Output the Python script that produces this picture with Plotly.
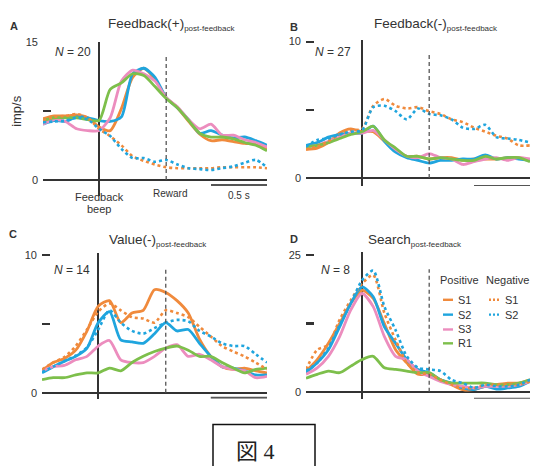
import plotly.graph_objects as go

W, H = 535, 466
ORANGE, BLUE, PINK, GREEN = '#F08A3C', '#1FA5DE', '#EC8DBE', '#7DBF4B'
INK = '#333333'
GREY = '#555555'
FONT = 'Liberation Sans, Arial, sans-serif'

# ---------------- data ----------------
time_s = [-0.5, -0.4, -0.3, -0.2, -0.1, 0.0, 0.1, 0.2, 0.3, 0.4, 0.5,
          0.6, 0.7, 0.8, 0.9, 1.0, 1.1, 1.2, 1.3, 1.4, 1.5]
REWARD_T = 0.6
series_names = ['Positive S1', 'Positive S2', 'Positive S3', 'Positive R1', 'Negative S1', 'Negative S2']

# Panel A  Feedback(+)
A_pos_S1 = [6.7, 7.0, 7.0, 7.1, 6.8, 5.8, 5.4, 7.8, 11.2, 12.2, 11.0, 9.0, 7.9, 6.4, 5.0, 4.3, 4.4, 4.2, 4.0, 3.9, 3.4]
A_pos_S2 = [6.1, 6.5, 6.4, 6.9, 6.8, 6.5, 6.4, 6.9, 11.6, 12.2, 11.2, 9.0, 7.9, 6.6, 5.1, 5.4, 4.9, 4.6, 4.7, 4.3, 3.8]
A_pos_S3 = [6.1, 6.6, 6.4, 5.6, 5.4, 5.4, 6.8, 10.8, 12.0, 11.6, 10.8, 9.0, 8.0, 6.6, 5.6, 6.1, 4.9, 4.9, 4.4, 4.1, 3.6]
A_pos_R1 = [6.5, 6.8, 6.8, 6.8, 6.6, 6.5, 9.9, 10.6, 11.6, 11.4, 10.2, 8.9, 7.9, 6.5, 5.1, 4.7, 4.7, 4.5, 4.1, 3.8, 3.2]
A_neg_S1 = [6.5, 6.9, 7.0, 7.2, 6.8, 5.6, 4.8, 3.8, 2.6, 2.1, 1.7, 1.4, 1.3, 1.3, 1.3, 1.3, 1.4, 1.4, 1.4, 1.4, 1.3]
A_neg_S2 = [6.3, 6.4, 6.5, 6.8, 6.6, 5.6, 4.8, 3.4, 2.4, 2.4, 2.0, 2.2, 1.7, 1.3, 1.2, 1.1, 1.3, 1.5, 1.9, 2.2, 1.4]

# Panel B  Feedback(-)
B_pos_S1 = [2.1, 2.2, 2.6, 3.3, 3.6, 3.4, 3.4, 2.7, 2.0, 1.6, 1.6, 1.4, 1.5, 1.5, 1.3, 1.4, 1.4, 1.4, 1.5, 1.5, 1.3]
B_pos_S2 = [2.4, 2.6, 3.0, 3.2, 3.3, 3.3, 3.8, 2.7, 1.9, 1.5, 1.3, 1.1, 1.3, 1.3, 1.4, 1.4, 1.7, 1.4, 1.5, 1.4, 1.3]
B_pos_S3 = [2.3, 2.4, 2.7, 3.0, 3.3, 3.3, 3.5, 2.8, 2.1, 1.6, 1.5, 1.8, 1.5, 1.4, 1.0, 1.2, 1.4, 1.5, 1.3, 1.5, 1.4]
B_pos_R1 = [2.3, 2.4, 2.6, 2.9, 3.2, 3.4, 3.8, 2.8, 2.2, 1.6, 1.6, 1.4, 1.5, 1.4, 1.3, 1.3, 1.6, 1.4, 1.5, 1.5, 1.2]
B_neg_S1 = [2.1, 2.3, 2.7, 3.2, 3.5, 3.6, 5.3, 5.8, 5.3, 5.1, 5.2, 4.9, 4.7, 4.3, 4.1, 3.7, 3.4, 3.1, 2.9, 2.4, 2.4]
B_neg_S2 = [2.3, 2.8, 2.9, 3.2, 3.4, 3.5, 5.2, 5.3, 4.9, 4.3, 5.1, 4.7, 4.6, 4.3, 3.7, 3.6, 3.9, 3.0, 2.9, 2.8, 2.6]

# Panel C  Value(-)
C_pos_S1 = [1.6, 2.2, 2.5, 3.1, 4.5, 6.3, 6.7, 5.1, 5.8, 6.0, 7.5, 7.3, 6.7, 5.8, 3.9, 2.65, 1.9, 1.7, 1.8, 1.6, 1.45]
C_pos_S2 = [1.45, 1.9, 2.3, 2.65, 3.25, 5.1, 5.9, 3.85, 3.7, 3.6, 4.3, 5.1, 4.5, 4.6, 3.6, 2.65, 1.9, 1.8, 1.6, 1.3, 1.3]
C_pos_S3 = [1.6, 1.9, 2.0, 2.4, 2.65, 3.4, 3.8, 2.4, 2.2, 2.2, 2.65, 3.25, 3.5, 2.65, 2.8, 2.4, 1.9, 1.7, 1.6, 1.1, 1.2]
C_pos_R1 = [0.96, 1.1, 1.1, 1.3, 1.45, 1.45, 1.8, 1.6, 2.2, 2.65, 3.0, 3.25, 3.4, 3.1, 2.65, 2.65, 2.2, 1.8, 1.45, 1.7, 1.8]
C_neg_S1 = [1.7, 2.2, 2.6, 3.4, 4.6, 5.9, 6.5, 6.0, 5.5, 5.4, 5.1, 6.0, 5.8, 5.5, 4.8, 4.1, 3.4, 3.0, 2.65, 2.2, 1.7]
C_neg_S2 = [1.5, 1.9, 2.3, 2.7, 3.3, 4.6, 6.0, 5.1, 4.5, 4.3, 4.7, 5.1, 5.3, 5.2, 4.5, 4.1, 3.6, 3.4, 3.4, 2.8, 2.2]

# Panel D  Search
D_pos_S1 = [3.8, 5.9, 8.9, 12.5, 16.2, 18.6, 17.1, 12.5, 7.7, 5.3, 3.2, 3.2, 2.2, 1.3, 0.4, 0.4, 1.0, 1.3, 1.6, 1.6, 2.2]
D_pos_S2 = [3.5, 5.3, 7.7, 11.9, 16.2, 19.2, 17.4, 11.9, 8.9, 5.9, 4.1, 3.5, 2.2, 1.6, 0.7, 0.4, 1.0, 0.5, 0.7, 1.0, 1.9]
D_pos_S3 = [3.2, 4.4, 6.5, 10.1, 15.0, 18.0, 15.6, 10.1, 6.5, 5.9, 3.8, 2.8, 1.9, 1.3, 1.0, 0.7, 1.0, 1.0, 1.0, 1.3, 1.9]
D_pos_R1 = [2.5, 3.2, 3.8, 3.5, 4.7, 5.9, 6.5, 4.4, 4.1, 3.8, 3.5, 3.5, 2.2, 1.6, 1.6, 1.6, 1.6, 1.3, 1.3, 1.6, 2.2]
D_neg_S1 = [4.1, 7.7, 8.6, 13.2, 16.8, 19.8, 21.4, 14.4, 9.5, 5.3, 3.5, 3.2, 2.2, 1.3, 0.7, 0.7, 1.3, 1.3, 1.3, 1.3, 1.9]
D_neg_S2 = [3.8, 5.3, 8.0, 12.2, 16.2, 20.4, 22.2, 15.6, 11.3, 6.5, 4.4, 4.1, 3.8, 2.2, 1.6, 0.7, 1.3, 1.0, 1.0, 1.3, 2.2]

panel_letters = ['A', 'B', 'C', 'D']
panel_titles = ['Feedback(+)', 'Feedback(-)', 'Value(-)', 'Search']
panel_subtitle = 'post-feedback'
panel_N = [20, 27, 14, 8]
panel_ymax = [15, 10, 10, 25]
panel_data = [
    [A_pos_S1, A_pos_S2, A_pos_S3, A_pos_R1, A_neg_S1, A_neg_S2],
    [B_pos_S1, B_pos_S2, B_pos_S3, B_pos_R1, B_neg_S1, B_neg_S2],
    [C_pos_S1, C_pos_S2, C_pos_S3, C_pos_R1, C_neg_S1, C_neg_S2],
    [D_pos_S1, D_pos_S2, D_pos_S3, D_pos_R1, D_neg_S1, D_neg_S2],
]

series_colors = [ORANGE, BLUE, PINK, GREEN, ORANGE, BLUE]
series_dash = ['solid', 'solid', 'solid', 'solid', 'dot', 'dot']

# ---------------- layout geometry (pixels) ----------------
geom = [
    dict(x0=43, x1=267, top=37, bottom=193, zero=177, tick=38, rew_top=52, bar=182,
         letter=(14, 21), title=(171, 20), n=(73, 48)),
    dict(x0=306, x1=530, top=35, bottom=183, zero=175, tick=37, rew_top=50, bar=183,
         letter=(294, 22), title=(436, 20), n=(333, 48)),
    dict(x0=42, x1=267, top=251, bottom=398, zero=392, tick=253, rew_top=265, bar=397,
         letter=(13, 231), title=(158, 238), n=(72, 268)),
    dict(x0=306, x1=530, top=250, bottom=398, zero=391, tick=253, rew_top=267, bar=398,
         letter=(294, 237), title=(415, 238), n=(335, 268)),
]


def px(x):
    return x / W


def py(y):
    return 1 - y / H


fig = go.Figure()
shapes = []
annotations = []
layout_axes = {}

for i in range(4):
    g = geom[i]
    sfx = '' if i == 0 else str(i + 1)
    xa, ya = 'x' + sfx, 'y' + sfx
    ymax = panel_ymax[i]
    s = (g['zero'] - g['tick']) / ymax  # px per unit
    yrange = [-(g['bottom'] - g['zero']) / s, (g['zero'] - g['top']) / s]

    for k in range(6):
        fig.add_trace(go.Scatter(
            x=time_s, y=panel_data[i][k], mode='lines', name=series_names[k],
            line=dict(color=series_colors[k], width=2.8 if series_dash[k] == 'solid' else 2.6,
                      dash=series_dash[k], shape='spline', smoothing=0.7),
            xaxis=xa, yaxis=ya, showlegend=False, hoverinfo='skip'))

    layout_axes['xaxis' + sfx] = dict(
        domain=[px(g['x0']), px(g['x1'])], range=[-0.5, 1.5], anchor=ya,
        showgrid=False, showticklabels=False, ticks='', showline=False,
        zeroline=True, zerolinecolor=INK, zerolinewidth=2)
    layout_axes['yaxis' + sfx] = dict(
        domain=[py(g['bottom']), py(g['top'])], range=yrange, anchor=xa,
        showgrid=False, showline=False, zeroline=True, zerolinecolor=INK, zerolinewidth=2,
        tickmode='array', tickvals=[0, ymax], ticktext=['0', str(ymax)],
        ticks='inside', ticklen=8, tickwidth=2.2, tickcolor=INK,
        minor=dict(tickmode='array', tickvals=[ymax / 2], ticks='inside', ticklen=8,
                   tickwidth=2.2, tickcolor=INK, showgrid=False),
        tickfont=dict(size=11, color=INK, family=FONT), ticklabelstandoff=4)

    # reward dashed line
    shapes.append(dict(type='line', xref=xa, yref=ya, x0=REWARD_T, x1=REWARD_T,
                       y0=0, y1=(g['zero'] - g['rew_top']) / s,
                       line=dict(color=GREY, width=1.3, dash='4px,3px')))
    # 0.5 s scale bar
    bar_y = -(g['bar'] - g['zero']) / s
    shapes.append(dict(type='line', xref=xa, yref=ya, x0=1.0, x1=1.5, y0=bar_y, y1=bar_y,
                       line=dict(color=GREY, width=2)))

    annotations.append(dict(text='<b>%s</b>' % panel_letters[i], x=px(g['letter'][0]), y=py(g['letter'][1]),
                            xref='paper', yref='paper', showarrow=False, xanchor='center', yanchor='middle',
                            font=dict(size=11, color=INK, family=FONT)))
    annotations.append(dict(text='%s<sub><span style="font-size:8px">%s</span></sub>' % (panel_titles[i], panel_subtitle),
                            x=px(g['title'][0]), y=py(g['title'][1]),
                            xref='paper', yref='paper', showarrow=False, xanchor='center', yanchor='middle',
                            font=dict(size=13.5, color=INK, family=FONT)))
    annotations.append(dict(text='<i>N</i> = %d' % panel_N[i], x=px(g['n'][0]), y=py(g['n'][1]),
                            xref='paper', yref='paper', showarrow=False, xanchor='center', yanchor='middle',
                            font=dict(size=12, color=INK, family=FONT)))

# Panel A extra labels
annotations += [
    dict(text='imp/s', x=px(17), y=py(107), xref='paper', yref='paper', showarrow=False, textangle=-90,
         xanchor='center', yanchor='middle', font=dict(size=13, color=INK, family=FONT)),
    dict(text='Feedback', x=0.0, y=py(194), xref='x', yref='paper', showarrow=False,
         xanchor='center', yanchor='middle', font=dict(size=11, color=INK, family=FONT)),
    dict(text='beep', x=0.0, y=py(206), xref='x', yref='paper', showarrow=False,
         xanchor='center', yanchor='middle', font=dict(size=11, color=INK, family=FONT)),
    dict(text='Reward', x=REWARD_T + 0.03, y=py(191), xref='x', yref='paper', showarrow=False,
         xanchor='center', yanchor='middle', font=dict(size=10, color=INK, family=FONT)),
    dict(text='0.5 s', x=1.25, y=py(193), xref='x', yref='paper', showarrow=False,
         xanchor='center', yanchor='middle', font=dict(size=10, color=INK, family=FONT)),
]

# Legend (panel D)
leg_font = dict(size=11, color=INK, family=FONT)
annotations += [
    dict(text='Positive', x=px(438), y=py(278), xref='paper', yref='paper', showarrow=False,
         xanchor='left', yanchor='middle', font=leg_font),
    dict(text='Negative', x=px(484), y=py(278), xref='paper', yref='paper', showarrow=False,
         xanchor='left', yanchor='middle', font=leg_font),
]
leg_rows = [298, 313, 328, 342]
for k in range(4):
    yy = leg_rows[k]
    shapes.append(dict(type='line', xref='paper', yref='paper', x0=px(443), x1=px(453), y0=py(yy), y1=py(yy),
                       line=dict(color=series_colors[k], width=2.4)))
    annotations.append(dict(text=series_names[k].split()[1], x=px(456), y=py(yy), xref='paper', yref='paper',
                            showarrow=False, xanchor='left', yanchor='middle', font=leg_font))
for k in range(4, 6):
    yy = leg_rows[k - 4]
    shapes.append(dict(type='line', xref='paper', yref='paper', x0=px(489), x1=px(500), y0=py(yy), y1=py(yy),
                       line=dict(color=series_colors[k], width=2.4, dash='2px,2px')))
    annotations.append(dict(text=series_names[k].split()[1], x=px(503), y=py(yy), xref='paper', yref='paper',
                            showarrow=False, xanchor='left', yanchor='middle', font=leg_font))

# Figure caption box
shapes.append(dict(type='rect', xref='paper', yref='paper', x0=px(213), x1=px(315), y0=py(475), y1=py(424),
                   line=dict(color='#111111', width=1.5), fillcolor='rgba(0,0,0,0)'))
annotations.append(dict(text='図 4', x=px(255), y=py(451), xref='paper', yref='paper', showarrow=False,
                        xanchor='center', yanchor='middle',
                        font=dict(size=22, color='#222222', family='Liberation Serif, DejaVu Serif, Noto Sans CJK JP')))

fig.update_layout(
    width=W, height=H, margin=dict(l=0, r=0, t=0, b=0),
    paper_bgcolor='white', plot_bgcolor='rgba(0,0,0,0)',
    showlegend=False, shapes=shapes, annotations=annotations,
    **layout_axes)

fig.write_html('out.html', config={'displayModeBar': False, 'staticPlot': True},
               post_script="document.body.style.margin='0';document.body.style.overflow='hidden';")
